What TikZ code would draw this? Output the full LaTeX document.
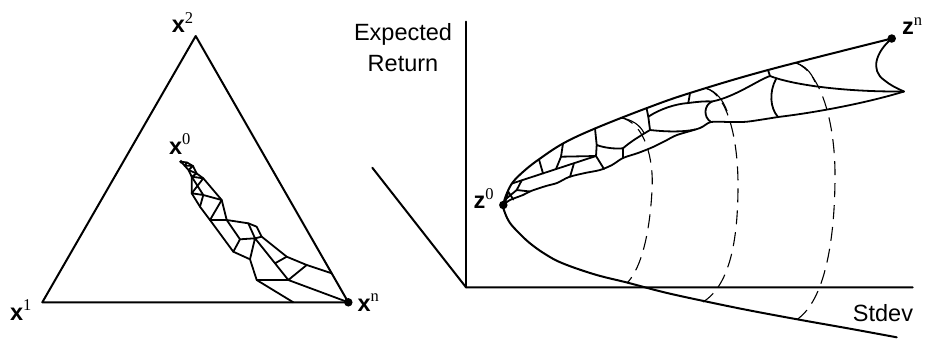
\documentclass[tikz,border=0pt]{standalone}
\usepackage[no-math]{fontspec}
\setmainfont{Liberation Sans}
\newfontfamily\supserif{Liberation Serif}
\newcommand{\lbl}[2]{\textbf{#1}\raisebox{9.5pt}{\fontsize{16.5}{16}\supserif #2}}
\begin{document}
\begin{tikzpicture}[x=1pt,y=-1pt,
  thickline/.style={line width=2pt, line join=round, line cap=round},
  meshline/.style={line width=1.8pt, line join=round, line cap=round},
  contour/.style={line width=1.1pt, dash pattern=on 14pt off 8pt},
  contourtop/.style={line width=1.1pt},
  lab/.style={inner sep=0pt, font=\fontsize{23.5}{31.6}\selectfont},
  dotm/.style={circle, fill=black, inner sep=0pt, minimum size=8.5pt}]
\useasboundingbox (0,0) rectangle (925,338);

% ---------------- left: simplex ----------------
\coordinate (t1) at (42.3,302.3);
\coordinate (t2) at (195.7,36);
\coordinate (tn) at (348.3,302.3);
\draw[thickline] (t1) -- (t2) -- (tn) -- cycle;

\coordinate (T) at (181,161.7);
\coordinate (L1) at (184.5,165.5);
\coordinate (L2) at (188.5,170);
\coordinate (L3) at (191.7,176.7);
\coordinate (L4) at (191.7,193.3);
\coordinate (L5) at (200,206.7);
\coordinate (L6) at (210,220);
\coordinate (L7) at (233.3,251.7);
\coordinate (L8) at (250,259.3);
\coordinate (L9) at (256.7,280);
\coordinate (L10) at (293.3,302.3);
\coordinate (R1) at (187,162.5);
\coordinate (R2) at (193,166);
\coordinate (R3) at (196.7,173.5);
\coordinate (R4) at (203.3,178.3);
\coordinate (R5) at (221.7,200);
\coordinate (R6) at (226.7,220);
\coordinate (R7) at (248.3,223.3);
\coordinate (R8) at (256.7,226.7);
\coordinate (R9) at (261.7,236.7);
\coordinate (R10) at (286.7,256.7);
\coordinate (R11) at (306.7,265);
\coordinate (R12) at (331.7,273.3);
\coordinate (M1) at (203.3,195);
\coordinate (M2) at (240,239.3);
\coordinate (M3) at (255,238.3);
\coordinate (M4) at (275,263.3);
\coordinate (M5) at (288.3,280);

\draw[meshline] (T) -- (L1) -- (L2) -- (L3) -- (L4) -- (L5) -- (L6) -- (L7) -- (L8) -- (L9) -- (L10);
\draw[meshline] (T) -- (R1) -- (R2) -- (R3) -- (R4) -- (R5) -- (R6) -- (R7) -- (R8) -- (R9) -- (R10) -- (R11) -- (R12);
\draw[meshline] (L1) -- (R1) (L1) -- (R2) (L2) -- (R2) (L2) -- (R3) (L3) -- (R3) (L3) -- (R4)
  (L3) -- (M1) (R4) -- (L4) (L4) -- (M1) (M1) -- (R5) (M1) -- (L5) (L6) -- (R5) (L6) -- (R6)
  (R6) -- (M2) -- (L7) (M2) -- (M3) (M3) -- (R7) (M3) -- (R9) (M3) -- (L8)
  (M3) -- (M4) -- (M5) (R10) -- (M4) (R11) -- (M5) (L9) -- (M5) (M5) -- (tn);
\fill (T) circle (1.8pt);

\node[dotm] (xndot) at (tn) {};
\node[lab] (x2) at (182.5,22.5) {\lbl{x}{2}};
\node[lab] (x1) at (20.8,310) {\lbl{x}{1}};
\node[lab] (xn) at (368.3,302.5) {\lbl{x}{n}};
\node[lab] (x0) at (179.7,144.2) {\lbl{x}{0}};

% ---------------- right: mean-stdev ----------------
\coordinate (dstart) at (372.3,167.7);
\coordinate (O) at (466,287.3);
\coordinate (ytop) at (466,21.7);
\coordinate (xend) at (912.7,287.3);
\draw[thickline] (dstart) -- (O) -- (xend);
\draw[thickline] (ytop) -- (O);

% contours
\draw[contour] (620,117.5) .. controls (645,122) and (654,160) .. (652,190)
  .. controls (650,230) and (642,268) .. (627,283);
\draw[contour] (706,88.3) .. controls (728,95) and (738,140) .. (738,185)
  .. controls (738,240) and (730,285) .. (703,302);
\draw[contour] (796,62.9) .. controls (820,72) and (835,120) .. (835,175)
  .. controls (835,240) and (825,300) .. (797,319.5);
\draw[contourtop] (620,117.5) .. controls (632,119.5) and (640,125) .. (644,133);
\draw[contourtop] (706,88.3) .. controls (716,91) and (723,100) .. (727,111);
\draw[contourtop] (796,62.9) .. controls (805,66) and (811,72) .. (815,82);

% frontier
\coordinate (z0) at (503.3,205);
\coordinate (zn) at (891.7,38.5);
\coordinate (tip) at (904,91.5);
\draw[thickline] plot[smooth, tension=0.6] coordinates {(891.7,38.5) (768,70) (690,93) (647,108) (595,128.5) (563,143.5) (538,160) (524,171) (513,182) (507,193) (503.3,205) (505,213) (510,223) (519,233) (530,243.3) (545,254) (562.6,263.3) (595,274.5) (627.7,282.7) (665,292.5) (707,301.7) (750,310.5) (801,320) (850,328.7) (896.7,337.3)};

% band lower edge
\draw[meshline] plot[smooth, tension=0.5] coordinates {(503.3,205) (510,200) (523,195) (531,191) (546,186) (557,183) (569,177) (585,173) (600,170) (612,165) (623,158) (638,153) (653,147) (667,140) (677,135) (700,128) (711,122) (730,122) (747,121.7) (778,117)};
\draw[meshline] (778,117) .. controls (820,112) and (870,102) .. (tip);
% closing curve at the right
\draw[meshline] (zn) .. controls (876,52) and (870,70) .. (884,80) .. controls (890,85) and (897,88.5) .. (tip);

% mesh cells
\coordinate (J1) at (770,76);
\coordinate (J2) at (712,101.5);
\coordinate (J3) at (688.3,103);
\coordinate (J4) at (648.3,116.7);
\coordinate (J5) at (650,130);
\coordinate (K1) at (561,156.7);
\coordinate (K2) at (596,156);
\coordinate (K3) at (596.7,145);
\coordinate (K4) at (623,148.3);
\coordinate (Da) at (512,183.5);
\draw[meshline] (768,70) -- (J1);
\draw[meshline] (J1) .. controls (790,84) and (840,92) .. (tip);
\draw[meshline] (776,79) .. controls (769,92) and (770,108) .. (778,117);
\draw[meshline] (J1) .. controls (758,80) and (735,97) .. (J2);
\draw[meshline] (J2) .. controls (704,101) and (696,102) .. (J3);
\draw[meshline] (690,93.2) -- (J3);
\draw[meshline] (J3) .. controls (675,104) and (660,109) .. (J4);
\draw[meshline] (646.5,108) -- (J4) -- (J5);
\draw[meshline] (J2) .. controls (704,105) and (703,117) .. (711,122);
\draw[meshline] (J5) .. controls (668,132) and (684,132) .. (695,129.5);
\draw[meshline] (J5) .. controls (640,136) and (630,142) .. (K4);
\draw[meshline] (K4) -- (623,158);
\draw[meshline] (K3) .. controls (605,148) and (615,149) .. (K4);
\draw[meshline] (595,128.5) -- (K3) -- (K2) -- (604,169);
\draw[meshline] (563,143.5) -- (K1) -- (556,169.1);
\draw[meshline] (K1) -- (K2);
\draw[meshline] (Da) -- (K2);
\draw[meshline] (543,173.4) -- (539,159.5);
\draw[meshline] (574,163.2) -- (570,176.8);
\draw[meshline] (521.7,180.4) -- (516.7,190) -- (530,191.5);
\draw[meshline] (516.7,190) -- (506.7,198.3);
\draw[meshline] (505,203.3) -- (508.3,191.7) -- (513.3,199.5);

\node[dotm] (z0dot) at (z0) {};
\node[dotm] (zndot) at (zn) {};
\node[lab] (z0lab) at (483.5,198.5) {\lbl{z}{0}};
\node[lab] (znlab) at (912,26) {\lbl{z}{n}};
\node[lab, align=center] (er) at (403,47.5) {Expected\\Return};
\node[lab] (sd) at (883,313.3) {Stdev};
\end{tikzpicture}
\end{document}
